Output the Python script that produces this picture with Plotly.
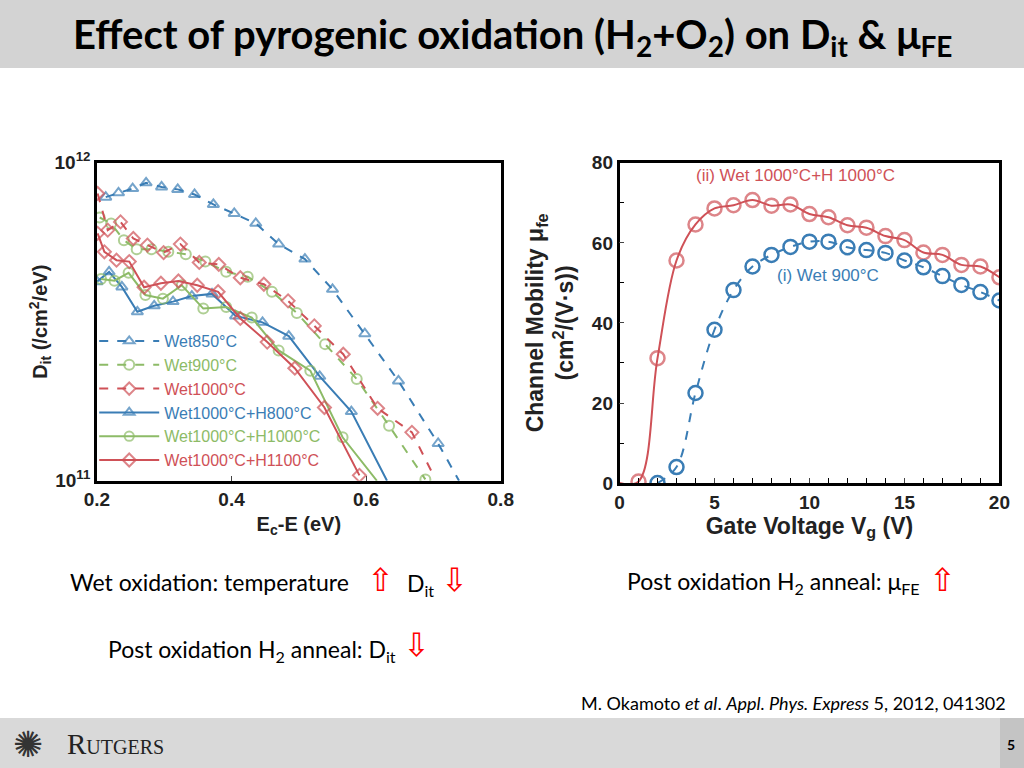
import plotly.graph_objects as go

# ---- Left chart: Dit vs Ec-E ----
w850_x = [0.213,0.232,0.253,0.273,0.296,0.320,0.345,0.373,0.404,0.436,0.470,0.509,0.550,0.598,0.648,0.707,0.738]
w850_y = [7.8e11,8.05e11,8.3e11,8.65e11,8.4e11,8.25e11,7.95e11,7.4e11,6.93e11,6.45e11,5.55e11,4.98e11,4.0e11,2.9e11,2.06e11,1.31e11,1.0e11]
w900_x = [0.204,0.221,0.240,0.259,0.281,0.306,0.332,0.361,0.392,0.424,0.460,0.497,0.539,0.586,0.634,0.688]
w900_y = [6.73e11,6.44e11,5.71e11,5.35e11,5.35e11,5.25e11,5.16e11,4.89e11,4.54e11,4.38e11,3.93e11,3.37e11,2.69e11,2.09e11,1.49e11,1.01e11]
w1000_x = [0.201,0.216,0.235,0.254,0.275,0.299,0.324,0.352,0.381,0.413,0.448,0.484,0.523,0.566,0.617,0.668,0.701]
w1000_y = [8.01e11,6.14e11,6.52e11,5.78e11,5.51e11,5.22e11,5.55e11,4.86e11,4.79e11,4.35e11,4.15e11,3.68e11,3.07e11,2.50e11,1.69e11,1.42e11,1.03e11]
h800_x = [0.200,0.218,0.237,0.260,0.285,0.313,0.341,0.371,0.406,0.446,0.485,0.531,0.578,0.631]
h800_y = [4.23e11,4.54e11,4.07e11,3.40e11,3.55e11,3.66e11,3.81e11,3.87e11,3.30e11,3.15e11,2.85e11,2.13e11,1.65e11,1.0e11]
h1000_x = [0.206,0.226,0.247,0.272,0.298,0.326,0.358,0.392,0.430,0.470,0.517,0.565,0.616]
h1000_y = [4.31e11,4.26e11,4.51e11,3.84e11,3.74e11,4.12e11,3.48e11,3.52e11,3.26e11,2.57e11,2.22e11,1.37e11,1.0e11]
h1100_x = [0.201,0.211,0.229,0.248,0.270,0.295,0.321,0.349,0.380,0.413,0.453,0.494,0.538,0.590]
h1100_y = [6.0e11,5.25e11,4.94e11,4.89e11,4.06e11,4.18e11,4.25e11,4.12e11,3.93e11,3.24e11,2.73e11,2.26e11,1.70e11,1.04e11]

# ---- Right chart: mobility vs Vg ----
vg_red = [0,1,2,3,4,5,6,7,8,9,10,11,12,13,14,15,16,17,18,19,20]
mu_red = [0,0.4,31.2,55.6,64.6,68.6,69.4,70.7,69.3,69.6,67.2,66.4,64.4,63.8,61.7,60.7,57.6,57.0,54.5,54.1,51.4]
vg_blue = [2,3,4,5,6,7,8,9,10,11,12,13,14,15,16,17,18,19,20]
mu_blue = [0,4.0,22.5,38.3,48.2,54.1,57.0,59.0,60.3,60.3,58.9,58.2,57.5,55.6,53.9,51.7,49.5,47.7,45.6]

BLUE = "#3a7db5"; GREEN = "#8dbb67"; RED = "#cf5157"
fig = go.Figure()

def sizes(n, last_hidden):
    s = [10]*n
    if last_hidden:
        s[-1] = 0
    return s

series = [
    ("Wet850°C", w850_x, w850_y, BLUE, "triangle-up-open", "dash", True),
    ("Wet900°C", w900_x, w900_y, GREEN, "circle-open", "dash", False),
    ("Wet1000°C", w1000_x, w1000_y, RED, "diamond-open", "dash", True),
    ("Wet1000°C+H800°C", h800_x, h800_y, BLUE, "triangle-up-open", "solid", True),
    ("Wet1000°C+H1000°C", h1000_x, h1000_y, GREEN, "circle-open", "solid", True),
    ("Wet1000°C+H1100°C", h1100_x, h1100_y, RED, "diamond-open", "solid", False),
]
for name, x, y, c, sym, dash, hide in series:
    fig.add_trace(go.Scatter(
        x=x, y=y, mode="lines+markers", xaxis="x", yaxis="y",
        name=f"<span style='color:{c}'>{name}</span>",
        line=dict(color=c, width=2, dash=dash),
        marker=dict(symbol=sym, size=sizes(len(x), hide), color=c, line=dict(width=2, color=c)),
    ))

fig.add_trace(go.Scatter(x=vg_red, y=mu_red, mode="lines+markers", xaxis="x2", yaxis="y2",
    showlegend=False, line=dict(color=RED, width=2, shape="spline"),
    marker=dict(symbol="circle-open", size=[0]+[14]*20, color=RED, line=dict(width=2.5, color=RED))))
fig.add_trace(go.Scatter(x=vg_blue, y=mu_blue, mode="lines+markers", xaxis="x2", yaxis="y2",
    showlegend=False, line=dict(color=BLUE, width=2, dash="dash", shape="spline"),
    marker=dict(symbol="circle-open", size=14, color=BLUE, line=dict(width=2.5, color=BLUE))))

axfont = dict(family="Liberation Sans", size=19, color="#222")
common = dict(showline=True, mirror=True, linecolor="black", linewidth=2.5, showgrid=False,
              zeroline=False, automargin=False)
fig.update_layout(
    width=1024, height=768, margin=dict(l=0, r=0, t=0, b=0, autoexpand=False),
    paper_bgcolor="white", plot_bgcolor="white",
    font=dict(family="Liberation Sans", color="#222"),
    xaxis=dict(domain=[0.0947, 0.489], range=[0.2, 0.8], tickvals=[0.2,0.4,0.6,0.8],
               ticktext=["<b>0.2</b>","<b>0.4</b>","<b>0.6</b>","<b>0.8</b>"],
               ticks="inside", ticklen=5, tickfont=axfont, **common,
               title=dict(text="<b>E<sub>c</sub>-E (eV)</b>", font=dict(family="Liberation Sans", size=20), standoff=8)),
    yaxis=dict(domain=[0.374, 0.788], type="log", range=[11, 12], tickvals=[1e11, 1e12],
               ticktext=["<b>10<sup>11</sup></b>", "<b>10<sup>12</sup></b>"],
               ticks="", tickfont=axfont, **common,
               title=dict(text="<b>D<sub>it</sub> (/cm<sup>2</sup>/eV)</b>", font=dict(family="Liberation Sans", size=20), standoff=2)),
    xaxis2=dict(domain=[0.605, 0.976], range=[0, 20], tickvals=[0,5,10,15,20],
                ticktext=["<b>0</b>","<b>5</b>","<b>10</b>","<b>15</b>","<b>20</b>"],
                ticks="inside", ticklen=5, tickfont=axfont, anchor="y2", **common,
                minor=dict(dtick=1, ticks="inside", ticklen=5, tickcolor="black"),
                title=dict(text="<b>Gate Voltage V<sub>g</sub> (V)</b>", font=dict(family="Liberation Sans", size=23), standoff=2)),
    yaxis2=dict(domain=[0.371, 0.788], range=[0, 80], tickvals=[0,20,40,60,80],
                ticktext=["<b>0</b>","<b>20</b>","<b>40</b>","<b>60</b>","<b>80</b>"],
                ticks="inside", ticklen=5, tickfont=axfont, anchor="x2", **common,
                minor=dict(dtick=10, ticks="inside", ticklen=5, tickcolor="black"),
                title=dict(text="<b>Channel Mobility μ<sub>fe</sub><br>(cm<sup>2</sup>/(V·s))</b>", font=dict(family="Liberation Sans", size=23), standoff=12)),
    legend=dict(x=0.092, y=0.578, xanchor="left", yanchor="top", bgcolor="rgba(0,0,0,0)",
                font=dict(family="Liberation Sans", size=16), tracegroupgap=0, itemwidth=60),
)

shapes = [
    dict(type="rect", xref="paper", yref="paper", x0=0, x1=1, y0=1-68/768, y1=1, fillcolor="#d3d3d3", line=dict(width=0), layer="below"),
    dict(type="rect", xref="paper", yref="paper", x0=0, x1=1, y0=0, y1=50/768, fillcolor="#d9d9d9", line=dict(width=0), layer="below"),
    dict(type="rect", xref="paper", yref="paper", x0=1000/1024, x1=1, y0=0, y1=50/768, fillcolor="#c4c4c4", line=dict(width=0), layer="below"),
]
fig.update_layout(shapes=shapes)

TF = "Lato"
AF = dict(family="DejaVu Sans", size=32, color="red")
ann = [
    dict(x=0.5, y=1-36/768, text="<b>Effect of pyrogenic oxidation (H<sub>2</sub>+O<sub>2</sub>) on D<sub>it</sub> &amp; μ<sub>FE</sub></b>",
         font=dict(family=TF, size=40, color="black")),
    dict(x=795/1024, y=1-176/768, text="(ii) Wet 1000°C+H 1000°C", font=dict(family="Liberation Sans", size=17, color=RED)),
    dict(x=828/1024, y=1-275/768, text="(i) Wet 900°C", font=dict(family="Liberation Sans", size=17, color=BLUE)),
    dict(x=68/1024, y=1-582/768, xanchor="left", text="Wet oxidation: temperature", font=dict(family=TF, size=23, color="black")),
    dict(x=380/1024, y=1-580/768, text="⇧", font=AF),
    dict(x=420/1024, y=1-584/768, text="D<sub>it</sub>", font=dict(family=TF, size=23, color="black")),
    dict(x=454/1024, y=1-580/768, text="⇩", font=AF),
    dict(x=625/1024, y=1-582/768, xanchor="left", text="Post oxidation H<sub>2</sub> anneal: μ<sub>FE</sub>", font=dict(family=TF, size=23, color="black")),
    dict(x=942/1024, y=1-580/768, text="⇧", font=AF),
    dict(x=106/1024, y=1-650/768, xanchor="left", text="Post oxidation H<sub>2</sub> anneal: D<sub>it</sub>", font=dict(family=TF, size=23, color="black")),
    dict(x=416/1024, y=1-645/768, text="⇩", font=AF),
    dict(x=1008/1024, y=1-703/768, xanchor="right", text="M. Okamoto <i>et al</i>. <i>Appl. Phys. Express</i> 5, 2012, 041302",
         font=dict(family=TF, size=18, color="black")),
    dict(x=65/1024, y=1-744/768, xanchor="left", text="R<span style='font-size:20px'>UTGERS</span>", font=dict(family="Liberation Serif", size=29, color="#222")),
    dict(x=28/1024, y=1-744/768, text="✺", font=dict(family="DejaVu Sans", size=36, color="#333")),
    dict(x=1011/1024, y=1-744/768, text="<b>5</b>", font=dict(family=TF, size=14, color="black")),
]
for a in ann:
    a.setdefault("xref", "paper"); a.setdefault("yref", "paper"); a.setdefault("showarrow", False)
    a.setdefault("xanchor", "center"); a.setdefault("yanchor", "middle")
fig.update_layout(annotations=ann)

fig.write_html("out.html", config={"displayModeBar": False},
               post_script="document.body.style.margin='0';document.body.style.overflow='hidden';")
